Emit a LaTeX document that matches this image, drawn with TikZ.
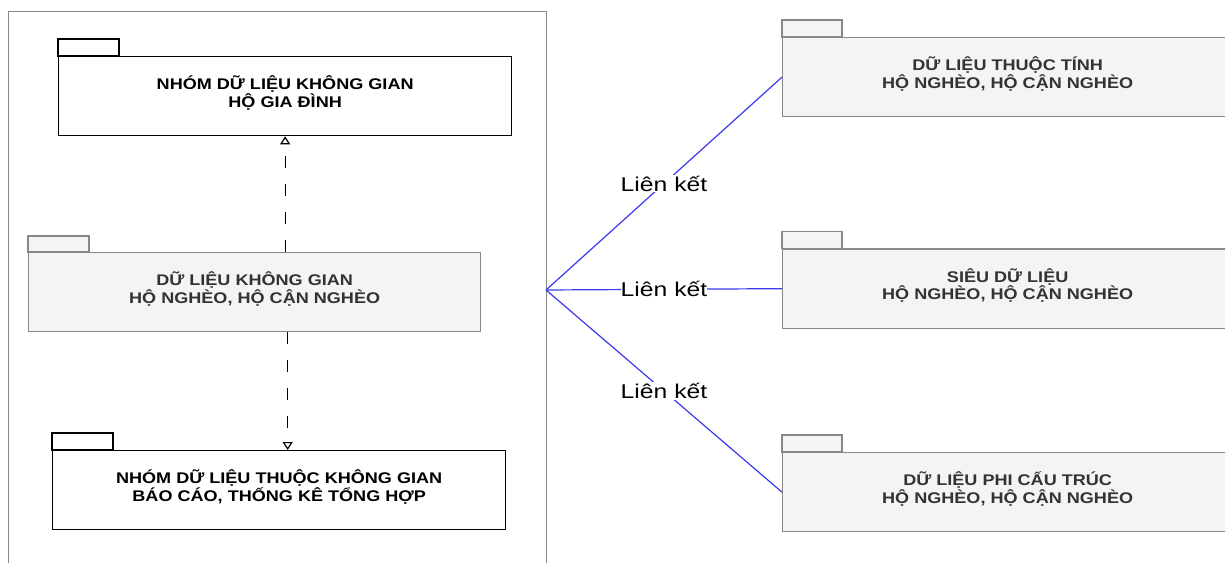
\documentclass[tikz,border=0pt]{standalone}
\usepackage{fontspec}
\setmainfont{Liberation Sans}
\newfontfamily\pkgfont[FakeStretch=1.17]{Liberation Sans}
\newfontfamily\lblfont[FakeStretch=1.24]{Liberation Sans}
\usetikzlibrary{arrows.meta}
\definecolor{pkggray}{HTML}{F4F4F4}
\definecolor{pkgline}{HTML}{888888}
\definecolor{pkgtext}{HTML}{333333}
\definecolor{linkblue}{HTML}{3A3AF0}
\tikzset{
  pkgwhite/.style={draw=black, fill=white, line width=1.3bp, minimum width=453bp, minimum height=79bp, inner sep=0, anchor=north west},
  pkggrey/.style={draw=pkgline, fill=pkggray, line width=1.3bp, minimum width=452bp, minimum height=79bp, inner sep=0, anchor=north west},
  tabwhite/.style={draw=black, fill=white, line width=1.3bp},
  tabgrey/.style={draw=pkgline, fill=pkggray, line width=1.3bp},
  pkgtitle/.style={font=\pkgfont\bfseries\fontsize{15.5}{17.5}\selectfont, align=center, inner sep=0},
  dep/.style={dash pattern=on 12bp off 16bp, line width=1.2bp, -{Triangle[open,length=8bp,width=10bp]}},
  link/.style={draw=linkblue, line width=1.2bp},
  linklabel/.style={font=\lblfont\fontsize{20}{22}\selectfont, fill=white, inner sep=1bp}
}
\begin{document}
\begin{tikzpicture}[x=1bp,y=-1bp]
\clip (0,0) rectangle (1225,563);
\fill[white] (0,0) rectangle (1225,563);
\node[draw=pkgline, line width=1.2bp, minimum width=538bp, minimum height=600bp, anchor=north west, inner sep=0] (frame) at (8,11) {};

% left packages
\node[pkgwhite] (ga) at (58,56) {};
\draw[tabwhite] (ga.north west) rectangle ++(61,-17);
\node[pkgtitle, text=black] (gat) at ([yshift=3bp]ga.center) {NHÓM DỮ LIỆU KHÔNG GIAN\\HỘ GIA ĐÌNH};

\node[pkggrey] (mid) at (28,252) {};
\draw[tabgrey] (mid.north west) rectangle ++(61,-16);
\node[pkgtitle, text=pkgtext] (midt) at ([yshift=3bp]mid.center) {DỮ LIỆU KHÔNG GIAN\\HỘ NGHÈO, HỘ CẬN NGHÈO};

\node[pkgwhite] (bc) at (52,450) {};
\draw[tabwhite] (bc.north west) rectangle ++(61,-17);
\node[pkgtitle, text=black] (bct) at ([yshift=3bp]bc.center) {NHÓM DỮ LIỆU THUỘC KHÔNG GIAN\\BÁO CÁO, THỐNG KÊ TỔNG HỢP};

% right packages
\node[pkggrey, minimum width=450bp] (r1) at (782,37) {};
\draw[tabgrey] (r1.north west) rectangle ++(60,-17);
\node[pkgtitle, text=pkgtext] (r1t) at ([yshift=3bp]r1.center) {DỮ LIỆU THUỘC TÍNH\\HỘ NGHÈO, HỘ CẬN NGHÈO};

\node[pkggrey, minimum width=450bp] (r2) at (782,248.5) {};
\draw[tabgrey] (r2.north west) rectangle ++(60,-17);
\node[pkgtitle, text=pkgtext] (r2t) at ([yshift=3bp]r2.center) {SIÊU DỮ LIỆU\\HỘ NGHÈO, HỘ CẬN NGHÈO};

\node[pkggrey, minimum width=450bp] (r3) at (782,452) {};
\draw[tabgrey] (r3.north west) rectangle ++(60,-17);
\node[pkgtitle, text=pkgtext] (r3t) at ([yshift=3bp]r3.center) {DỮ LIỆU PHI CẤU TRÚC\\HỘ NGHÈO, HỘ CẬN NGHÈO};

% dependencies
\draw[dep] (mid.north -| ga.south) -- (ga.south);
\draw[dep] ([xshift=33bp]mid.south) -- ([xshift=33bp]mid.south |- bc.north);

% links
\coordinate (hub) at (546,290);
\draw[link] (hub) -- node[linklabel] (l1) {Liên kết} (r1.west);
\draw[link] (hub) -- node[linklabel, inner sep=0] (l2) {Liên kết} (r2.west);
\draw[link] (hub) -- node[linklabel] (l3) {Liên kết} (r3.west);
\end{tikzpicture}
\end{document}
